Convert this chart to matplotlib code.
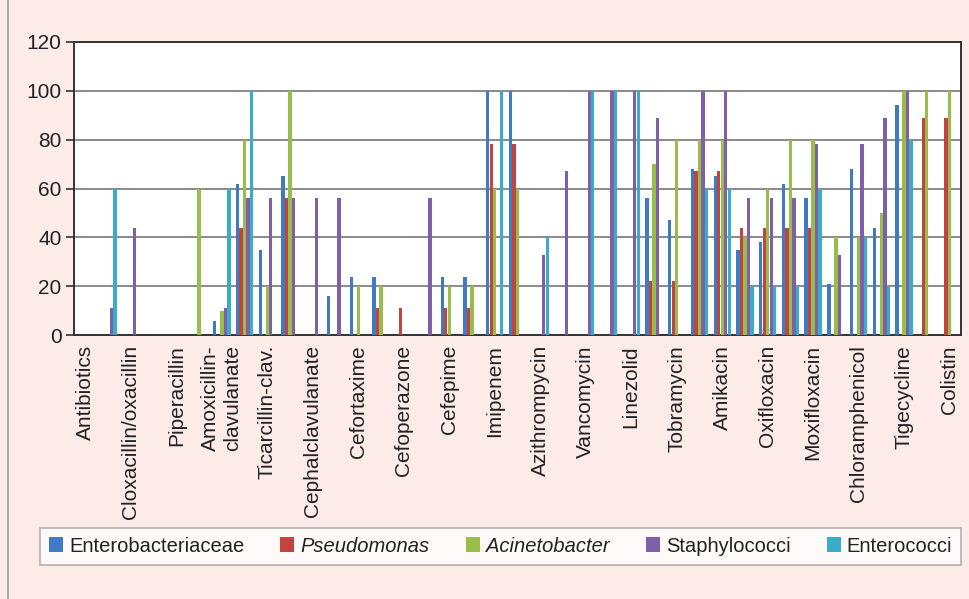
import numpy as np
from matplotlib import pyplot as plt

plt.rcParams['font.family'] = ['Liberation Sans', 'DejaVu Sans']

# 39 category slots, only every other one carries a label
categories = ["Antibiotics", "", "Cloxacillin/oxacillin", "", "Piperacillin", "",
              "Amoxicillin-\nclavulanate", "", "Ticarcillin-clav.", "", "Cephalclavulanate", "",
              "Cefortaxime", "", "Cefoperazone", "", "Cefepime", "", "Imipenem", "",
              "Azithrompycin", "", "Vancomycin", "", "Linezolid", "", "Tobramycin", "",
              "Amikacin", "", "Oxifloxacin", "", "Moxifloxacin", "", "Chloramphenicol", "",
              "Tigecycline", "", "Colistin"]

enterobacteriaceae = [0, 0, 0, 0, 0, 0, 6, 62, 35, 65, 0, 16, 24, 24, 0, 0, 24, 24, 100, 100,
                      0, 0, 0, 0, 0, 56, 47, 68, 65, 35, 38, 62, 56, 21, 68, 44, 94, 0, 0]
pseudomonas = [0, 0, 0, 0, 0, 0, 0, 44, 0, 56, 0, 0, 0, 11, 11, 0, 11, 11, 78, 78,
               0, 0, 0, 0, 0, 22, 22, 67, 67, 44, 44, 44, 44, 0, 0, 0, 0, 89, 89]
acinetobacter = [0, 0, 0, 0, 0, 60, 10, 80, 20, 100, 0, 0, 20, 20, 0, 0, 20, 20, 60, 60,
                 0, 0, 0, 0, 0, 70, 80, 80, 80, 40, 60, 80, 80, 40, 40, 50, 100, 100, 100]
staphylococci = [0, 11, 44, 0, 0, 0, 11, 56, 56, 56, 56, 56, 0, 0, 0, 56, 0, 0, 0, 0,
                 33, 67, 100, 100, 100, 89, 0, 100, 100, 56, 56, 56, 78, 33, 78, 89, 100, 0, 0]
enterococci = [0, 60, 0, 0, 0, 0, 60, 100, 0, 0, 0, 0, 0, 0, 0, 0, 0, 0, 100, 0,
               40, 0, 100, 100, 100, 0, 0, 60, 60, 20, 20, 20, 60, 0, 40, 20, 80, 0, 0]

series_names = ["Enterobacteriaceae", "Pseudomonas", "Acinetobacter", "Staphylococci", "Enterococci"]
series = [enterobacteriaceae, pseudomonas, acinetobacter, staphylococci, enterococci]
colors = ["#3F7BC4", "#C2443F", "#98BD4A", "#7E5FA8", "#38ADC9"]

fig = plt.figure(figsize=(9.69, 5.99), dpi=100)
fig.patch.set_facecolor("#FCEBE7")
ax = fig.add_axes([0.0764, 0.4402, 0.9153, 0.4902])

x = np.arange(len(categories))
step = 0.154
for i, (name, vals, c) in enumerate(zip(series_names, series, colors)):
    ax.bar(x + (i - 2) * step, vals, width=0.145, color=c, label=name, zorder=3)

ax.set_xlim(-0.5, len(categories) - 0.5)
ax.set_ylim(0, 120)
ax.set_yticks(np.arange(0, 121, 20))
ax.tick_params(axis='y', labelsize=15, length=6, width=1.2, color="#333333", pad=3, labelcolor="#222222")

ticks = [k for k in x if categories[k]]
ax.set_xticks(ticks)
ax.set_xticklabels([categories[k] for k in ticks], rotation=90, ha='center', va='top', fontsize=15, color="#222222")
ax.tick_params(axis='x', length=0, pad=7)

ax.yaxis.grid(True, color="#8A8A8A", linewidth=1.4, zorder=0)
ax.set_axisbelow(True)
for s in ax.spines.values():
    s.set_color("#333333")
    s.set_linewidth(1.4)

leg = fig.legend(loc='lower left', bbox_to_anchor=(0.041, 0.057, 0.951, 0.062), mode='expand',
                 ncol=5, fontsize=14.5, frameon=True, fancybox=False, handlelength=0.7,
                 handleheight=0.8, handletextpad=0.3, borderaxespad=0, borderpad=0.45)
leg.get_frame().set_edgecolor("#A0A0A0")
leg.get_frame().set_linewidth(1.2)
for t in leg.get_texts():
    t.set_color("#222222")
    if t.get_text() in ("Pseudomonas", "Acinetobacter"):
        t.set_style('italic')

fig.add_artist(plt.Line2D([8 / 969, 8 / 969], [0, 1], color="#9A9A9A", linewidth=1.2))

fig.savefig("out.png", dpi=100, facecolor=fig.get_facecolor())
